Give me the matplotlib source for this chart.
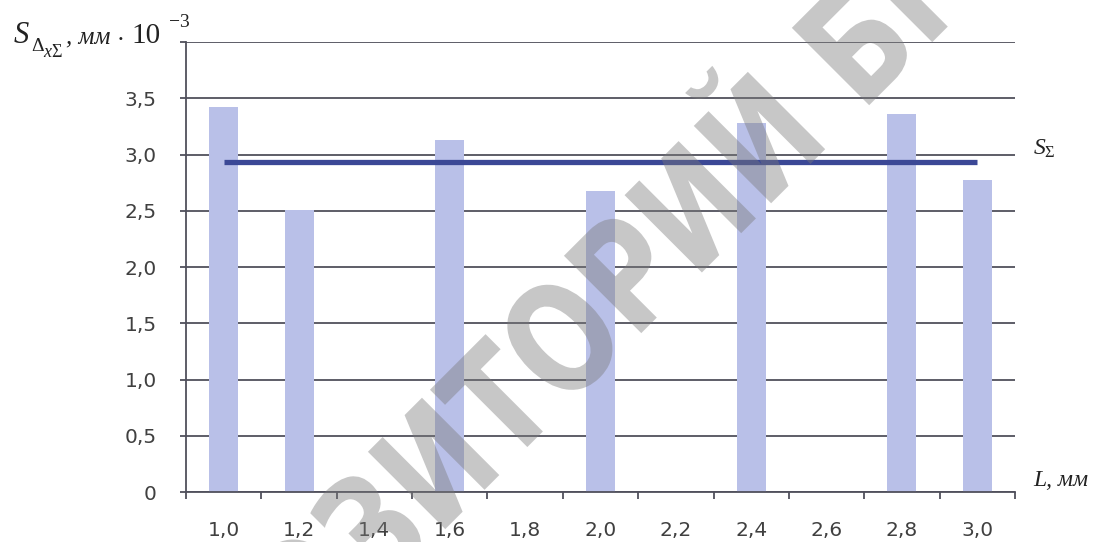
import numpy as np
import matplotlib
matplotlib.use("Agg")
import matplotlib.pyplot as plt
from matplotlib.textpath import TextPath
from matplotlib.patches import PathPatch
from matplotlib.font_manager import FontProperties
from matplotlib.transforms import Affine2D, IdentityTransform

plt.rcParams['mathtext.fontset'] = 'custom'
plt.rcParams['mathtext.rm'] = 'Liberation Serif'
plt.rcParams['mathtext.it'] = 'Liberation Serif:italic'

# data
L_labels = ['1,0', '1,2', '1,4', '1,6', '1,8', '2,0', '2,2', '2,4', '2,6', '2,8', '3,0']
S_dx = [3.42, 2.51, np.nan, 3.13, np.nan, 2.68, np.nan, 3.28, np.nan, 3.36, 2.77]
S_sum = [2.93, 2.93]
y_ticks = [0, 0.5, 1.0, 1.5, 2.0, 2.5, 3.0, 3.5, 4.0]
y_labels = ['0', '0,5', '1,0', '1,5', '2,0', '2,5', '3,0', '3,5', '']

W, H = 1098, 542
fig = plt.figure(figsize=(W / 100, H / 100), dpi=100)
ax = fig.add_axes([186 / W, 1 - 492 / H, 829 / W, 450 / H])

x = np.arange(len(L_labels))
grid_c = '#50505c'
for y in y_ticks:
    ax.axhline(y, color=grid_c, lw=1.3, zorder=1)

ax.bar(x, S_dx, width=0.385, color='#b9c0e8', zorder=2)
ax.plot([x[0], x[-1]], S_sum, color='#3b4896', lw=3.8, solid_capstyle='butt', zorder=3)

ax.set_xlim(-0.5, len(L_labels) - 0.5)
ax.set_ylim(0, 4.0)
ax.set_yticks(y_ticks)
ax.set_yticklabels(y_labels)
ax.set_xticks(x)
ax.set_xticklabels(L_labels)
ax.set_xticks(np.arange(-0.5, len(L_labels)), minor=True)

for s in ['top', 'right']:
    ax.spines[s].set_visible(False)
ax.spines['left'].set_color(grid_c)
ax.spines['bottom'].set_color(grid_c)
ax.spines['left'].set_linewidth(1.3)
ax.spines['bottom'].set_linewidth(1.3)

ax.tick_params(axis='y', length=4, width=1.3, color=grid_c, pad=17,
               labelsize=14.5, labelcolor='#404040')
ax.tick_params(axis='x', which='major', length=0, pad=21,
               labelsize=14.5, labelcolor='#404040')
ax.tick_params(axis='x', which='minor', length=5, width=1.3, color=grid_c)
for t in ax.get_xticklabels() + ax.get_yticklabels():
    t.set_fontfamily('DejaVu Sans')

# axis titles
tc = '#222222'
fig.text(13 / W, 1 - 43 / H, r'$S$', fontsize=22, color=tc)
fig.text(31 / W, 1 - 51 / H, r'$\Delta$', fontsize=14, color=tc)
fig.text(43 / W, 1 - 57 / H, r'$x\Sigma$', fontsize=13, color=tc)
fig.text(66 / W, 1 - 43 / H, ', мм', fontsize=18, family='Liberation Serif',
         style='italic', color=tc)
fig.text(116 / W, 1 - 43 / H, r'$\cdot$', fontsize=20, color=tc)
fig.text(131 / W, 1 - 43 / H, '10', fontsize=21, family='Liberation Serif', color=tc)
fig.text(169 / W, 1 - 27 / H, '−3', fontsize=14, family='Liberation Serif', color=tc)
fig.text(1033 / W, 1 - 155 / H, r'$S_{\Sigma}$', fontsize=17, color=tc)
fig.text(1033 / W, 1 - 486 / H, 'L, мм', fontsize=17, family='Liberation Serif',
         style='italic', color=tc)

# watermark (condensed, diagonal)
fp = FontProperties(family='DejaVu Sans', weight='bold')
wm = 'РЕПОЗИТОРИЙ БГПУ'
size = 150
tp = TextPath((0, 0), wm, size=size, prop=fp)
x0 = TextPath((0, 0), 'РЕПОЗИТ', size=size, prop=fp).get_extents().x1
x1 = TextPath((0, 0), 'РЕПОЗИТО', size=size, prop=fp).get_extents().x1
cx, cy = (x0 + x1) / 2, 0.36 * size
tr = (Affine2D().translate(-cx, -cy).scale(0.78, 1.0)
      .rotate_deg(45).translate(558, H - 340))
fig.add_artist(PathPatch(tp, transform=tr + IdentityTransform(), facecolor='#7a7a7a',
                         alpha=0.42, lw=0, zorder=10))

fig.savefig('out.png', dpi=100)
